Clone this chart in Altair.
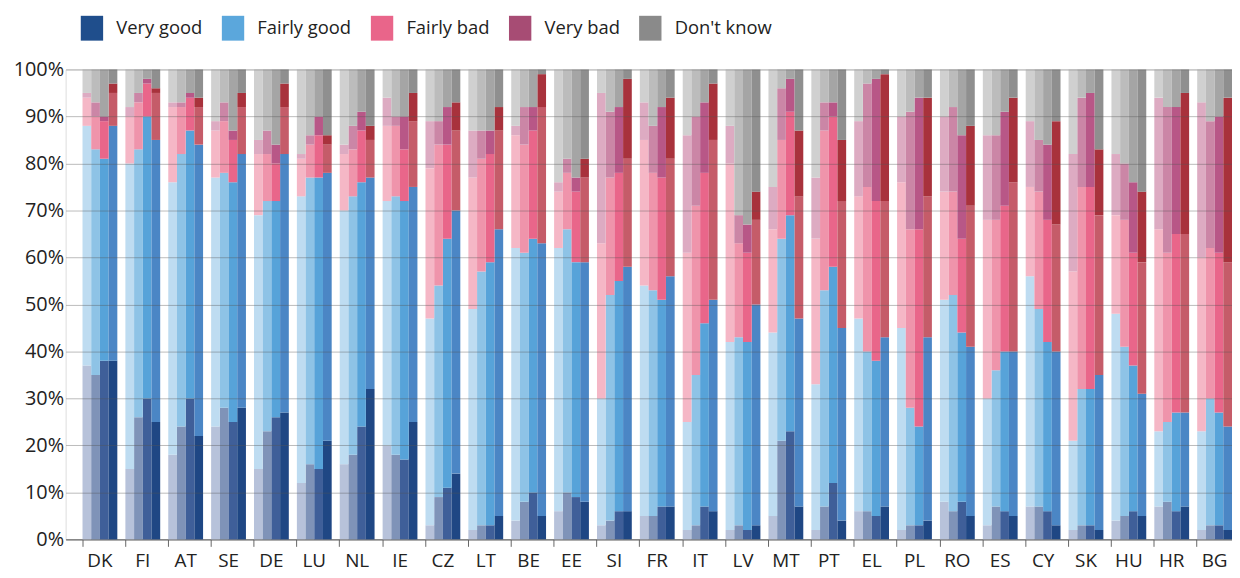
import altair as alt
import pandas as pd

countries = ["DK", "FI", "AT", "SE", "DE", "LU", "NL", "IE", "CZ", "LT", "BE", "EE", "SI", "FR",
             "IT", "LV", "MT", "PT", "EL", "PL", "RO", "ES", "CY", "SK", "HU", "HR", "BG"]
waves = ["1", "2", "3", "4"]
categories = ["Very good", "Fairly good", "Fairly bad", "Very bad", "Don't know"]

# values in % per country, one entry per wave (oldest -> latest)
very_good = [[37, 35, 38, 38], [15, 26, 30, 25], [18, 24, 30, 22], [24, 28, 25, 28], [15, 23, 26, 27],
             [12, 16, 15, 21], [16, 18, 24, 32], [20, 18, 17, 25], [3, 9, 11, 14], [2, 3, 3, 5],
             [4, 8, 10, 5], [6, 10, 9, 8], [3, 4, 6, 6], [5, 5, 7, 7], [2, 3, 7, 6],
             [2, 3, 2, 3], [5, 21, 23, 7], [2, 7, 12, 4], [6, 6, 5, 7], [2, 3, 3, 4],
             [8, 6, 8, 5], [3, 7, 6, 5], [7, 7, 6, 3], [2, 3, 3, 2], [4, 5, 6, 5],
             [7, 8, 6, 7], [2, 3, 3, 2]]
fairly_good = [[51, 48, 43, 50], [65, 57, 60, 60], [58, 58, 57, 62], [53, 50, 51, 54], [54, 49, 46, 55],
               [61, 61, 62, 57], [54, 55, 52, 45], [52, 55, 55, 50], [44, 45, 53, 56], [47, 54, 56, 61],
               [58, 53, 54, 58], [56, 56, 50, 51], [27, 48, 49, 52], [49, 48, 44, 49], [23, 32, 39, 45],
               [40, 40, 40, 47], [39, 43, 46, 40], [31, 46, 46, 41], [41, 34, 33, 36], [43, 25, 21, 39],
               [43, 46, 36, 36], [27, 29, 34, 35], [49, 42, 36, 37], [19, 29, 29, 33], [44, 36, 31, 26],
               [16, 17, 21, 20], [21, 27, 24, 22]]
fairly_bad = [[6, 7, 8, 7], [10, 10, 7, 10], [16, 10, 7, 8], [10, 11, 9, 10], [13, 10, 8, 10],
              [8, 7, 9, 6], [12, 10, 11, 8], [16, 15, 11, 14], [32, 30, 20, 17], [28, 24, 23, 21],
              [24, 23, 23, 29], [12, 12, 15, 18], [33, 25, 23, 23], [31, 25, 26, 25], [36, 36, 32, 34],
              [38, 20, 19, 18], [22, 21, 22, 26], [31, 34, 32, 27], [26, 35, 34, 29], [31, 38, 42, 30],
              [23, 22, 20, 30], [38, 32, 31, 36], [19, 25, 26, 27], [36, 43, 43, 34], [21, 27, 24, 28],
              [43, 36, 38, 38], [37, 32, 34, 35]]
very_bad = [[1, 3, 1, 2], [2, 2, 1, 1], [1, 1, 1, 2], [2, 4, 2, 3], [3, 5, 4, 5],
            [1, 2, 4, 2], [2, 5, 4, 3], [6, 2, 7, 6], [10, 5, 8, 6], [10, 6, 5, 5],
            [2, 8, 5, 7], [2, 3, 3, 4], [32, 14, 14, 17], [8, 10, 15, 13], [25, 19, 15, 12],
            [8, 6, 6, 6], [9, 11, 7, 14], [13, 6, 3, 13], [16, 22, 26, 27], [14, 25, 28, 21],
            [16, 18, 22, 17], [18, 18, 20, 18], [14, 11, 16, 22], [25, 19, 20, 14], [13, 12, 15, 15],
            [28, 31, 27, 30], [33, 27, 29, 35]]
dont_know = [[5, 7, 10, 3], [8, 5, 2, 4], [7, 7, 5, 6], [11, 7, 13, 5], [15, 13, 16, 3],
             [18, 14, 10, 14], [16, 12, 9, 12], [6, 10, 10, 5], [11, 11, 8, 7], [13, 13, 13, 8],
             [12, 8, 8, 1], [24, 19, 23, 19], [5, 9, 8, 2], [7, 12, 8, 6], [14, 10, 7, 3],
             [12, 31, 33, 26], [25, 4, 2, 13], [23, 7, 7, 15], [11, 3, 2, 1], [10, 9, 6, 6],
             [10, 8, 14, 12], [14, 14, 9, 6], [11, 15, 16, 11], [18, 6, 5, 17], [18, 20, 24, 26],
             [6, 8, 8, 5], [7, 11, 10, 6]]

series = [very_good, fairly_good, fairly_bad, very_bad, dont_know]

# colours per category, one per wave (light -> dark)
wave_colors = {
    "Very good": ["#b7c2da", "#7f93b8", "#3f5f99", "#1f4784"],
    "Fairly good": ["#bedcf1", "#8ec3e6", "#57a3d9", "#4b86c5"],
    "Fairly bad": ["#f5b7c6", "#ef94ab", "#e9668a", "#c55c69"],
    "Very bad": ["#ddabc2", "#cb86a6", "#b85787", "#a8323c"],
    "Don't know": ["#d0d0d0", "#bcbcbc", "#a5a5a5", "#8f8f8f"],
}
legend_colors = ["#1f4e8c", "#5ba7dc", "#e9658a", "#a74c74", "#8a8a8a"]

rows = []
for ci, cat in enumerate(categories):
    for k, ctry in enumerate(countries):
        for w, wave in enumerate(waves):
            rows.append({"country": ctry, "wave": wave, "category": cat, "ord": ci,
                         "key": f"{cat}|{wave}", "value": series[ci][k][w]})
df = pd.DataFrame(rows)

key_domain = [f"{c}|{w}" for c in categories for w in waves]
key_range = [wave_colors[c][i] for c in categories for i in range(4)]

FONT = "Open Sans"

x_enc = alt.X("country:N", sort=countries, title=None,
              scale=alt.Scale(paddingInner=0.188, paddingOuter=0.197, align=1),
              axis=alt.Axis(labelAngle=0, labelFont=FONT, labelFontSize=19, labelColor="#222222",
                            labelPadding=5, tickSize=7, tickColor="#666666", domainColor="#666666",
                            bandPosition=0, grid=False))

bars = alt.Chart(df).mark_bar(strokeWidth=0).encode(
    x=x_enc,
    xOffset=alt.XOffset("wave:N", sort=waves, scale=alt.Scale(paddingInner=0, paddingOuter=0)),
    y=alt.Y("value:Q", stack="zero", title=None,
            scale=alt.Scale(domain=[0, 100], nice=False),
            axis=alt.Axis(values=list(range(0, 101, 10)), labelExpr="datum.value + '%'",
                          labelFont=FONT, labelFontSize=20, labelColor="#222222", labelPadding=2,
                          ticks=False, domain=False, grid=True, gridColor="#555555",
                          gridOpacity=0.4, zindex=1)),
    color=alt.Color("key:N", scale=alt.Scale(domain=key_domain, range=key_range), legend=None),
    order=alt.Order("ord:Q"),
)

legend_df = pd.DataFrame({"category": categories, "country": ["DK"] * 5, "zero": [0] * 5})
legend_layer = alt.Chart(legend_df).mark_square(opacity=0, size=625).encode(
    x=alt.X("country:N", sort=countries),
    y=alt.Y("zero:Q"),
    color=alt.Color("category:N", sort=categories,
                    scale=alt.Scale(domain=categories, range=legend_colors),
                    legend=alt.Legend(title=None, orient="none", direction="horizontal",
                                      legendX=14, legendY=-54, padding=0,
                                      symbolType="M-0.9,-1H0.9V1H-0.9Z", symbolSize=625,
                                      symbolOpacity=1, symbolStrokeWidth=0,
                                      labelFont=FONT, labelFontSize=18.5, labelColor="#222222",
                                      labelOffset=12, columnPadding=18)),
)

chart = alt.layer(bars, legend_layer).resolve_scale(color="independent").properties(
    width=1174, height=473,
    autosize=alt.AutoSizeParams(type="none"),
    padding={"left": 58, "top": 60, "right": 0, "bottom": 35},
).configure_view(stroke=None).configure(background="white")

chart.save("out.html", embed_options={"renderer": "svg", "actions": False})
